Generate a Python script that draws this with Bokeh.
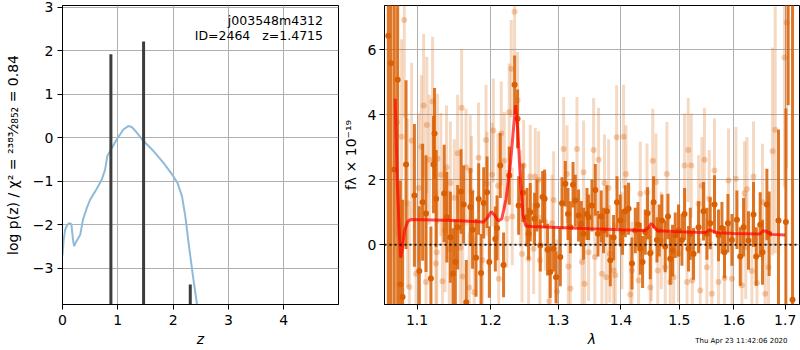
from bokeh.plotting import figure
from bokeh.models import Range1d, FixedTicker, Label, Span, ColumnDataSource, PrintfTickFormatter, Title
from bokeh.layouts import row
from bokeh.embed import file_html
from bokeh.resources import INLINE

# ---------------- left panel data: log p(z) ----------------
pz_z = [0.00, 0.02, 0.05, 0.08, 0.12, 0.16, 0.19, 0.21, 0.25, 0.32, 0.37, 0.44, 0.50,
        0.62, 0.71, 0.77, 0.81, 0.86, 0.98, 1.10, 1.19, 1.25, 1.35, 1.47, 1.65, 1.83,
        1.98, 2.08, 2.16, 2.22, 2.28, 2.36, 2.44]
pz_logp = [-2.70, -2.35, -2.10, -2.02, -1.96, -1.98, -2.34, -2.49, -2.38, -2.23, -1.88,
           -1.61, -1.42, -1.17, -0.96, -0.73, -0.42, -0.31, -0.04, 0.19, 0.27, 0.25, 0.11,
           -0.08, -0.31, -0.58, -0.84, -1.04, -1.34, -1.80, -2.42, -3.19, -3.90]
peak_z = [0.875, 1.466, 2.310]
peak_top = [1.92, 2.21, -3.37]
peak_floor = [-10.0, -10.0, -10.0]
z_ticks = [0, 1, 2, 3, 4]
logp_ticks = [-3, -2, -1, 0, 1, 2, 3]
obj_name = "j003548m4312"
obj_info = "ID=2464\u00a0\u00a0\u00a0z=1.4715"

# ---------------- right panel data: spectrum ----------------
dark_lam = [1.0633, 1.0666, 1.0708, 1.0751, 1.0785, 1.0814, 1.0858, 1.0966, 1.1030, 1.1073,
            1.1117, 1.1182, 1.1216, 1.1230, 1.1252, 1.1359, 1.1395, 1.1442, 1.1478, 1.1510,
            1.1541, 1.1587, 1.1623, 1.1660, 1.1715, 1.1747, 1.1795, 1.1832, 1.1865, 1.1902,
            1.1949, 1.1982, 1.2067, 1.2091, 1.2138, 1.2185, 1.2268, 1.2345, 1.2389, 1.2404,
            1.2468, 1.2527, 1.2551, 1.2576, 1.2640, 1.2676, 1.2726, 1.2761, 1.2791, 1.2836,
            1.2877, 1.2928, 1.2965, 1.3031, 1.3057, 1.3108, 1.3150, 1.3186, 1.3228, 1.3264,
            1.3315, 1.3358, 1.3394, 1.3448, 1.3474, 1.3528, 1.3581, 1.3624, 1.3677, 1.3714,
            1.3769, 1.3824, 1.3878, 1.3934, 1.3988, 1.4026, 1.4071, 1.4126, 1.4183, 1.4239,
            1.4284, 1.4323, 1.4362, 1.4408, 1.4447, 1.4493, 1.4550, 1.4608, 1.4648, 1.4694,
            1.4752, 1.4800, 1.4840, 1.4880, 1.4928, 1.4986, 1.5046, 1.5093, 1.5164, 1.5195,
            1.5254, 1.5345, 1.5435, 1.5497, 1.5558, 1.5637, 1.5711, 1.5775, 1.5823, 1.5887,
            1.5962, 1.6057, 1.6120, 1.6183, 1.6278, 1.6375, 1.6427, 1.6505, 1.6550, 1.6636,
            1.6681, 1.6866, 1.7014, 1.7060, 1.7148]
dark_flux = [6.44, 5.59, 2.32, 5.08, -1.22, -1.61, 2.47, 1.52, -0.81, 1.31,
             0.96, -1.04, 2.47, 3.43, 1.42, 1.58, 0.85, 0.23, -0.89, -0.53,
             0.54, 1.64, 1.24, -1.77, 1.16, 0.46, -0.40, 1.41, -0.87, 1.29,
             1.62, -0.53, 0.18, 0.52, 2.44, -0.62, 2.13, 4.93, 3.88, 1.21,
             1.60, 0.85, 0.34, 1.00, 0.80, 1.21, -0.02, 1.47, 1.42, -0.15,
             -0.84, -0.12, -1.00, -0.38, 1.28, 1.88, 0.95, 0.54, 1.85, 1.36,
             0.90, 0.65, 0.34, 0.95, 0.85, 1.21, 1.69, 0.34, 0.87, 0.44,
             1.03, -0.48, 0.22, 1.31, 0.75, 0.39, 1.03, 1.11, -0.58, 0.44,
             0.62, -0.12, -0.53, 0.39, 0.97, -0.26, 1.31, 0.15, 0.44, 0.75,
             -0.05, 0.87, -0.43, -0.18, 0.29, 0.44, 0.15, 0.95, -0.12, 0.34,
             -0.28, 0.54, 1.03, 0.34, 0.66, 1.24, 0.29, 0.52, -0.23, 0.66,
             0.15, 0.77, -0.36, 0.54, 0.13, 0.93, -0.36, 0.62, -0.23, 1.24,
             0.34, 0.75, 0.70, 9.00, -1.69]
dark_err = [10.0, 10.0, 8.0, 9.0, 3.2, 3.0, 2.6, 2.2, 2.0, 1.8,
            1.8, 1.6, 1.5, 1.4, 1.5, 1.5, 1.4, 1.4, 1.4, 1.3,
            1.3, 1.3, 1.2, 1.3, 1.2, 1.2, 1.2, 1.1, 1.2, 1.1,
            1.1, 1.1, 1.0, 1.0, 1.0, 1.0, 0.9, 0.9, 0.9, 0.9,
            0.9, 0.9, 0.8, 0.9, 0.8, 0.8, 0.8, 0.8, 0.9, 0.8,
            0.8, 0.7, 0.8, 0.9, 0.8, 0.7, 0.8, 0.8, 0.7, 0.8,
            0.8, 0.7, 0.8, 0.8, 0.7, 0.8, 0.8, 0.7, 0.8, 0.7,
            0.8, 0.8, 0.7, 0.8, 0.8, 0.7, 0.8, 0.8, 0.8, 0.7,
            0.7, 0.8, 0.8, 0.7, 0.8, 0.8, 0.8, 0.7, 0.8, 0.8,
            0.8, 0.7, 0.8, 0.8, 0.7, 0.8, 0.8, 0.8, 0.7, 0.8,
            0.8, 0.8, 0.9, 0.8, 0.8, 0.9, 0.8, 0.8, 0.8, 0.9,
            0.8, 0.9, 0.9, 0.9, 0.9, 1.0, 0.9, 1.0, 1.0, 1.1,
            1.3, 2.8, 3.5, 4.7, 10.0]

light_lam = [1.0742, 1.0801, 1.0835, 1.0878, 1.0900, 1.0930, 1.0987, 1.1021, 1.1056, 1.1086,
             1.1117, 1.1128, 1.1161, 1.1204, 1.1248, 1.1259, 1.1269, 1.1314, 1.1335, 1.1371,
             1.1390, 1.1428, 1.1442, 1.1496, 1.1541, 1.1578, 1.1596, 1.1610, 1.1656, 1.1701,
             1.1715, 1.1733, 1.1770, 1.1830, 1.1886, 1.1935, 1.1949, 1.2020, 1.2039, 1.2105,
             1.2116, 1.2152, 1.2195, 1.2233, 1.2267, 1.2296, 1.2311, 1.2345, 1.2389, 1.2429,
             1.2454, 1.2477, 1.2551, 1.2576, 1.2626, 1.2651, 1.2701, 1.2719, 1.2801, 1.2862,
             1.2903, 1.2928, 1.2980, 1.3082, 1.3134, 1.3155, 1.3186, 1.3290, 1.3369, 1.3394,
             1.3410, 1.3474, 1.3554, 1.3574, 1.3634, 1.3688, 1.3730, 1.3758, 1.3796, 1.3815,
             1.3878, 1.3906, 1.3928, 1.4016, 1.4043, 1.4083, 1.4154, 1.4183, 1.4294, 1.4323,
             1.4437, 1.4493, 1.4510, 1.4536, 1.4591, 1.4622, 1.4682, 1.4752, 1.4781, 1.4840,
             1.4899, 1.4986, 1.5093, 1.5137, 1.5158, 1.5213, 1.5231, 1.5345, 1.5375, 1.5405,
             1.5452, 1.5497, 1.5539, 1.5588, 1.5637, 1.5711, 1.5823, 1.5898, 1.5962, 1.6038,
             1.6152, 1.6202, 1.6225, 1.6248, 1.6344, 1.6375, 1.6441, 1.6550, 1.6603, 1.6668,
             1.6747, 1.6800, 1.6986, 1.7030]
light_flux = [3.77, 3.33, 6.92, 1.28, -1.30, 3.21, -0.89, 1.75, 3.02, 4.29,
              -1.15, 3.69, 2.62, 4.41, -0.58, -0.23, 2.65, 2.16, -1.12, 0.44,
              2.39, -0.12, 1.90, 1.45, 2.82, -0.09, 4.22, -0.98, 2.39, -1.32,
              2.29, 1.64, -1.46, 2.68, -0.48, 3.23, 1.88, 2.16, 3.52, 1.82,
              -1.05, 3.43, 2.59, 0.80, 4.08, 5.42, 0.87, 7.18, 4.44, 1.42,
              -0.28, 2.44, -0.43, 2.10, -0.12, 2.10, 2.00, -0.48, 0.70, -1.74,
              0.66, 1.38, -1.44, 2.95, 2.18, -0.67, -1.35, 2.95, -0.53, 2.23,
              -1.20, -0.23, 2.92, -0.38, 2.62, -0.89, 1.90, -1.00, 1.75, -0.28,
              -0.79, -0.94, 3.31, 0.13, 3.33, 2.18, -1.53, -0.79, -1.10, 1.57,
              1.62, -1.32, -0.23, 2.59, 1.93, -0.79, 0.13, -0.69, 2.18, -1.15,
              -1.00, -0.28, 2.44, -1.15, 2.92, 2.44, -1.10, 1.26, -1.41, 1.82,
              2.62, -0.69, 1.42, -1.51, 2.29, -1.15, -1.02, 1.98, -1.05, 2.03,
              -1.25, 1.59, -0.07, 1.72, -0.81, 2.10, -1.18, 1.31, -1.51, -0.69,
              2.88, 3.54, 5.77, 6.85]
light_err = [3.5, 3.0, 3.0, 2.6, 2.5, 2.4, 2.3, 2.3, 2.2, 2.2,
             2.1, 2.1, 2.0, 2.0, 2.0, 1.9, 2.0, 1.9, 1.9, 1.9,
             1.9, 1.8, 1.9, 1.8, 1.8, 1.8, 1.8, 1.8, 1.8, 1.7,
             1.7, 1.7, 1.7, 1.7, 1.7, 1.7, 1.6, 1.6, 1.6, 1.6,
             1.6, 1.6, 1.5, 1.5, 1.5, 1.5, 1.5, 1.5, 1.5, 1.5,
             1.5, 1.4, 1.5, 1.6, 1.4, 1.5, 1.5, 1.4, 1.5, 1.6,
             1.5, 1.5, 1.6, 1.6, 1.5, 1.5, 1.6, 1.6, 1.5, 1.6,
             1.6, 1.5, 1.6, 1.5, 1.6, 1.6, 1.5, 1.6, 1.5, 1.5,
             1.5, 1.6, 1.6, 1.5, 1.6, 1.5, 1.6, 1.5, 1.5, 1.6,
             1.5, 1.6, 1.5, 1.6, 1.5, 1.5, 1.5, 1.5, 1.6, 1.5,
             1.5, 1.5, 1.6, 1.5, 1.6, 1.6, 1.5, 1.5, 1.6, 1.5,
             1.6, 1.5, 1.5, 1.6, 1.6, 1.5, 1.5, 1.6, 1.5, 1.6,
             1.6, 1.6, 1.6, 1.6, 1.7, 1.7, 1.7, 1.8, 1.9, 2.2,
             3.2, 3.8, 4.0, 4.5]

model_lam = [1.0720, 1.0745, 1.0775, 1.0790, 1.0810, 1.0840, 1.0880, 1.0920, 1.1500, 1.1900,
             1.1960, 1.2010, 1.2060, 1.2110, 1.2160, 1.2220, 1.2280, 1.2330, 1.2360, 1.2390,
             1.2430, 1.2470, 1.2510, 1.2600, 1.3000, 1.3500, 1.4000, 1.4400, 1.4460, 1.4510,
             1.4560, 1.4620, 1.5000, 1.5480, 1.5540, 1.5600, 1.5700, 1.6000, 1.6500, 1.6560,
             1.6620, 1.6720, 1.7000]
model_flux = [4.50, 2.00, 0.20, -0.40, -0.10, 0.45, 0.72, 0.78, 0.75, 0.70,
              0.85, 1.02, 0.90, 0.73, 0.80, 1.40, 2.40, 3.60, 4.30, 3.60,
              2.00, 0.90, 0.58, 0.56, 0.53, 0.49, 0.46, 0.44, 0.52, 0.66,
              0.55, 0.43, 0.40, 0.38, 0.46, 0.42, 0.37, 0.35, 0.33, 0.43,
              0.42, 0.32, 0.30]
lam_ticks = [1.1, 1.2, 1.3, 1.4, 1.5, 1.6, 1.7]
flux_ticks = [0, 2, 4, 6]
date_text = "Thu Apr 23 11:42:06 2020"

FONT = "DejaVu Sans"
ORANGE = "#d95f02"


def style(p):
    p.background_fill_color = "white"
    p.border_fill_color = "white"
    p.outline_line_color = "black"
    p.outline_line_width = 1
    p.outline_line_alpha = 1.0
    for ax in (p.xaxis[0], p.yaxis[0]):
        ax.axis_line_color = "black"
        ax.major_tick_line_color = "black"
        ax.major_tick_out = 5
        ax.major_tick_in = 0
        ax.minor_tick_out = 0
        ax.minor_tick_in = 0
        ax.major_label_text_font = FONT
        ax.major_label_text_font_size = "14px"
        ax.major_label_text_color = "black"
        ax.axis_label_text_font = FONT
        ax.axis_label_text_font_size = "14px"
        ax.axis_label_text_color = "black"
        ax.axis_label_text_font_style = "normal"
        ax.major_label_standoff = 3
    p.xaxis.major_label_standoff = 5
    p.xaxis.axis_label_standoff = 3
    p.xaxis.axis_label_text_font_style = "italic"
    for g in (p.xgrid[0], p.ygrid[0]):
        g.grid_line_color = "#b0b0b0"
        g.grid_line_width = 1


# ---------------- left figure ----------------
p1 = figure(width=339, height=350, x_range=Range1d(0, 4.99), y_range=Range1d(-3.83, 3.04),
            output_backend="svg", toolbar_location=None,
            min_border_left=62, min_border_right=1, min_border_top=5, min_border_bottom=46)
style(p1)
p1.xaxis.ticker = FixedTicker(ticks=z_ticks)
p1.yaxis.ticker = FixedTicker(ticks=logp_ticks)
p1.xgrid.ticker = FixedTicker(ticks=z_ticks)
p1.ygrid.ticker = FixedTicker(ticks=logp_ticks)
p1.yaxis.major_label_overrides = {-3: "\u22123", -2: "\u22122", -1: "\u22121"}
p1.xaxis.axis_label = "z"
p1.yaxis.axis_label = "log p(z) / \u03c7\u00b2 = \u00b2\u00b3\u2078\u00b3\u2044\u2082\u2088\u2085\u2082 = 0.84"
p1.yaxis.major_label_standoff = 4
p1.yaxis.axis_label_standoff = 9

p1.line(pz_z, pz_logp, line_color="#8fbbd9", line_width=2)
p1.segment(x0=peak_z, y0=peak_floor, x1=peak_z, y1=peak_top, line_color="#3c3c3c", line_width=3)

for txt, yv in ((obj_name, 2.69), (obj_info, 2.34)):
    p1.add_layout(Label(x=4.71, y=yv, text=txt, text_align="right", text_baseline="middle",
                        text_font=FONT, text_font_size="12.5px", text_color="black"))

# ---------------- right figure ----------------
p2 = figure(width=461, height=350, x_axis_type="log",
            x_range=Range1d(1.0585, 1.729), y_range=Range1d(-1.84, 7.37),
            output_backend="svg", toolbar_location=None,
            min_border_left=45, min_border_right=1, min_border_top=5, min_border_bottom=46)
style(p2)
p2.xaxis.ticker = FixedTicker(ticks=lam_ticks)
p2.xgrid.ticker = FixedTicker(ticks=lam_ticks)
p2.xaxis.formatter = PrintfTickFormatter(format="%.1f")
p2.yaxis.ticker = FixedTicker(ticks=flux_ticks)
p2.ygrid.ticker = FixedTicker(ticks=flux_ticks)
p2.xaxis.axis_label = "\u03bb"
p2.yaxis.axis_label = "f\u03bb \u00d7 10\u207b\u00b9\u2079"
p2.yaxis.axis_label_standoff = 6

light = ColumnDataSource(dict(lam=light_lam, flux=light_flux,
                              lo=[f - e for f, e in zip(light_flux, light_err)],
                              hi=[f + e for f, e in zip(light_flux, light_err)]))
dark = ColumnDataSource(dict(lam=dark_lam, flux=dark_flux,
                             lo=[f - e for f, e in zip(dark_flux, dark_err)],
                             hi=[f + e for f, e in zip(dark_flux, dark_err)]))

p2.segment(x0="lam", y0="lo", x1="lam", y1="hi", source=light,
           line_color=ORANGE, line_alpha=0.24, line_width=3)
p2.scatter("lam", "flux", source=light, size=6, fill_color=ORANGE, fill_alpha=0.3,
           line_color=None)
p2.segment(x0="lam", y0="lo", x1="lam", y1="hi", source=dark,
           line_color=ORANGE, line_alpha=0.85, line_width=3)
p2.scatter("lam", "flux", source=dark, size=6, fill_color=ORANGE, fill_alpha=1.0,
           line_color=None)
p2.line(model_lam, model_flux, line_color="red", line_alpha=0.7, line_width=3)
p2.add_layout(Span(location=0, dimension="width", line_color="black", line_alpha=0.85,
                   line_dash="2 3", line_width=2))

# timestamp in the bottom-right corner: side-panel title pulled up beside the axis label
p2.add_layout(Title(text=date_text, align="right", vertical_align="top", offset=12, standoff=-26,
                    text_font=FONT, text_font_size="7px", text_font_style="normal",
                    text_color="black"), "below")

layout = row(p1, p2)
open("out.html", "w").write(file_html(layout, INLINE))
